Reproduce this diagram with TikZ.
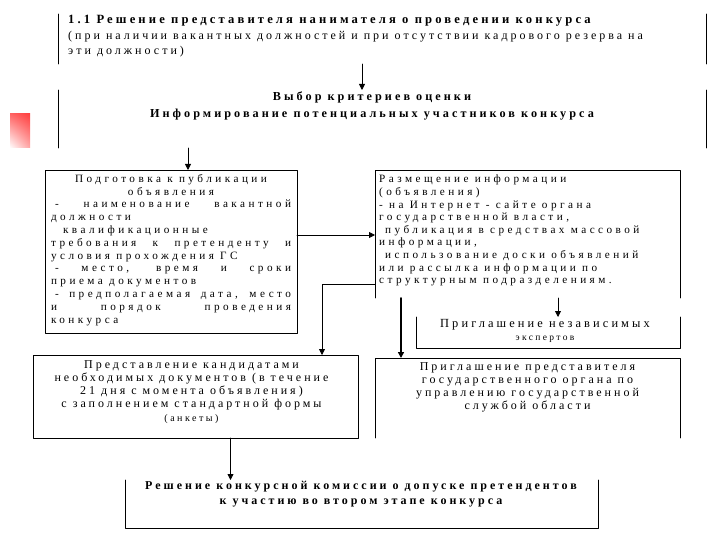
\documentclass[tikz,border=0pt]{standalone}
\usepackage{fontspec}
\setmainfont{Liberation Serif}
\newfontfamily\razr[LetterSpace=25]{Liberation Serif}
\newfontfamily\razrsh[LetterSpace=31]{Liberation Serif}
\usetikzlibrary{arrows.meta,calc,shadings}

\begin{document}
\begin{tikzpicture}[x=1pt,y=-1pt,line join=round,line cap=round,
    ramka/.style={inner sep=0pt,outer sep=0pt},
    kontur/.style={line width=0.8pt},
    strelka/.style={line width=0.8pt,-{Triangle[length=6pt,width=6pt]}},
    tekst/.style={inner sep=0pt,font=\razr\fontsize{12}{13.3}\selectfont},
    spisok/.style={inner sep=0pt,font=\razrsh\fontsize{11.2}{12.8}\selectfont},
    zag/.style={inner sep=0pt,font=\razr\bfseries\fontsize{12.2}{17}\selectfont}]

  \useasboundingbox (0,0) rectangle (720,540);

  % красная плашка слева
  \shade[upper left=red!60,upper right=red!75,lower left=white,lower right=red!35]
    (10,114) rectangle (30,148);

  % ======================= рамки блоков =======================
  \node[ramka,minimum width=648pt,minimum height=50pt] (reshenie)   at (382,39)    {}; % 1.1 решение
  \node[ramka,minimum width=648pt,minimum height=58pt] (vybor)      at (382,119)   {}; % выбор критериев
  \node[ramka,minimum width=252pt,minimum height=163pt] (podgotovka) at (171,251.5) {}; % подготовка
  \node[ramka,minimum width=305pt,minimum height=128pt] (razmeshch)  at (527.5,234) {}; % размещение
  \node[ramka,minimum width=264pt,minimum height=31pt] (eksperty)   at (548,332.5) {}; % эксперты
  \node[ramka,minimum width=325pt,minimum height=83pt] (predstavl)  at (195.5,396.5) {}; % документы
  \node[ramka,minimum width=305pt,minimum height=80pt] (priglash)   at (527.5,398) {}; % представитель
  \node[ramka,minimum width=473pt,minimum height=48pt] (dopusk)     at (361.5,504) {}; % допуск

  % стороны (часть рамок открыта)
  \draw[kontur] (reshenie.north west) -- (reshenie.south west)
                (reshenie.north east) -- (reshenie.south east);
  \draw[kontur] (vybor.north west) -- (vybor.south west)
                (vybor.north east) -- (vybor.south east);
  \draw[kontur] (podgotovka.north west) rectangle (podgotovka.south east);
  \draw[kontur] (razmeshch.south west) -- (razmeshch.north west)
                -- (razmeshch.north east) -- (razmeshch.south east);
  \draw[kontur] (eksperty.north west) -- (eksperty.south west)
                -- (eksperty.south east) -- (eksperty.north east);
  \draw[kontur] (predstavl.north west) rectangle (predstavl.south east);
  \draw[kontur] (priglash.south west) -- (priglash.north west)
                -- (priglash.north east) -- (priglash.south east);
  \draw[kontur] (dopusk.north west) -- (dopusk.south west)
                -- (dopusk.south east) -- (dopusk.north east);

  % ======================= тексты =======================
  \node[tekst,anchor=north west,align=left,font=\razr\fontsize{12}{15.5}\selectfont] (t1) at (68,15)
    {{\bfseries\fontsize{12.6}{15.5}\selectfont 1.1 Решение представителя нанимателя о проведении конкурса}\\
     (при наличии вакантных должностей и при отсутствии кадрового резерва на\\
     эти должности)};
  \node[zag,anchor=north,align=center] (t2) at (372,92)
    {Выбор критериев оценки\\Информирование потенциальных участников конкурса};
  \node[spisok,anchor=north,align=left] (t3) at ($(podgotovka.north)+(0,4)$)
    {\makebox[240pt][c]{Подготовка к публикации}\\
     \makebox[240pt][c]{объявления}\\
     \makebox[240pt][s]{\hspace*{4pt}- наименование вакантной}\\
     \makebox[240pt][l]{должности}\\
     \makebox[240pt][l]{\hspace*{12pt}квалификационные}\\
     \makebox[240pt][s]{требования к претенденту и}\\
     \makebox[240pt][l]{условия прохождения ГС}\\
     \makebox[240pt][s]{\hspace*{4pt}- место, время и сроки}\\
     \makebox[240pt][l]{приема документов}\\
     \makebox[240pt][s]{\hspace*{4pt}- предполагаемая дата, место}\\
     \makebox[240pt][s]{и порядок проведения}\\
     \makebox[240pt][l]{конкурса}};
  \node[spisok,anchor=north west,align=left,font=\razrsh\fontsize{11.2}{12.6}\selectfont] (t4)
    at ($(razmeshch.north west)+(4,5)$)
    {Размещение информации\\
     (объявления)\\
     - на Интернет - сайте органа\\
     государственной власти,\\
     \hspace*{6pt}публикация в средствах массовой\\
     информации,\\
     \hspace*{6pt}использование доски объявлений\\
     или рассылка информации по\\
     структурным подразделениям.};
  \node[tekst,anchor=north,align=center] (t5) at (545,319)
    {{\fontsize{12.4}{14}\selectfont Приглашение независимых}\\
     {\fontsize{9.5}{11}\selectfont экспертов}};
  \node[tekst,anchor=north,align=center] (t6)
    at ($(predstavl.north)+(-4,5)$)
    {Представление кандидатами\\
     необходимых документов (в течение\\
     21 дня с момента объявления)\\
     с заполнением стандартной формы\\
     {\fontsize{10}{11}\selectfont (анкеты)}};
  \node[tekst,anchor=north,align=center] (t7)
    at ($(priglash.north)+(0,4)$)
    {Приглашение представителя\\
     государственного органа по\\
     управлению государственной\\
     службой области};
  \node[zag,anchor=north,align=center,font=\razr\bfseries\fontsize{12}{15}\selectfont] (t8)
    at (361,481)
    {Решение конкурсной комиссии о допуске претендентов\\
     к участию во втором этапе конкурса};

  % ======================= стрелки =======================
  \path ($(vybor.north)+(-20,0)$) coordinate (s1)
        ($(podgotovka.north)+(17,0)$) coordinate (s2)
        ($(podgotovka.east)+(0,-16.5)$) coordinate (s3)
        ($(razmeshch.west)+(0,50)$) coordinate (s4)
        ($(razmeshch.south west)+(26,0)$) coordinate (s5)
        ($(eksperty.north)+(10,0)$) coordinate (s6)
        ($(dopusk.north)+(-131,0)$) coordinate (s7);

  \draw[strelka] (s1 |- reshenie.south) -- (s1);
  \draw[strelka] (s2 |- vybor.south) -- (s2);
  \draw[strelka] (s3) -- (s3 -| razmeshch.west);
  \draw[strelka] (s4) -| ($(predstavl.north)+(126.5,0)$);
  \draw[strelka,line width=1.6pt] (s5) -- (s5 |- priglash.north);
  \draw[strelka] (s6 |- razmeshch.south) -- (s6);
  \draw[strelka] (s7 |- predstavl.south) -- (s7);

\end{tikzpicture}
\end{document}
